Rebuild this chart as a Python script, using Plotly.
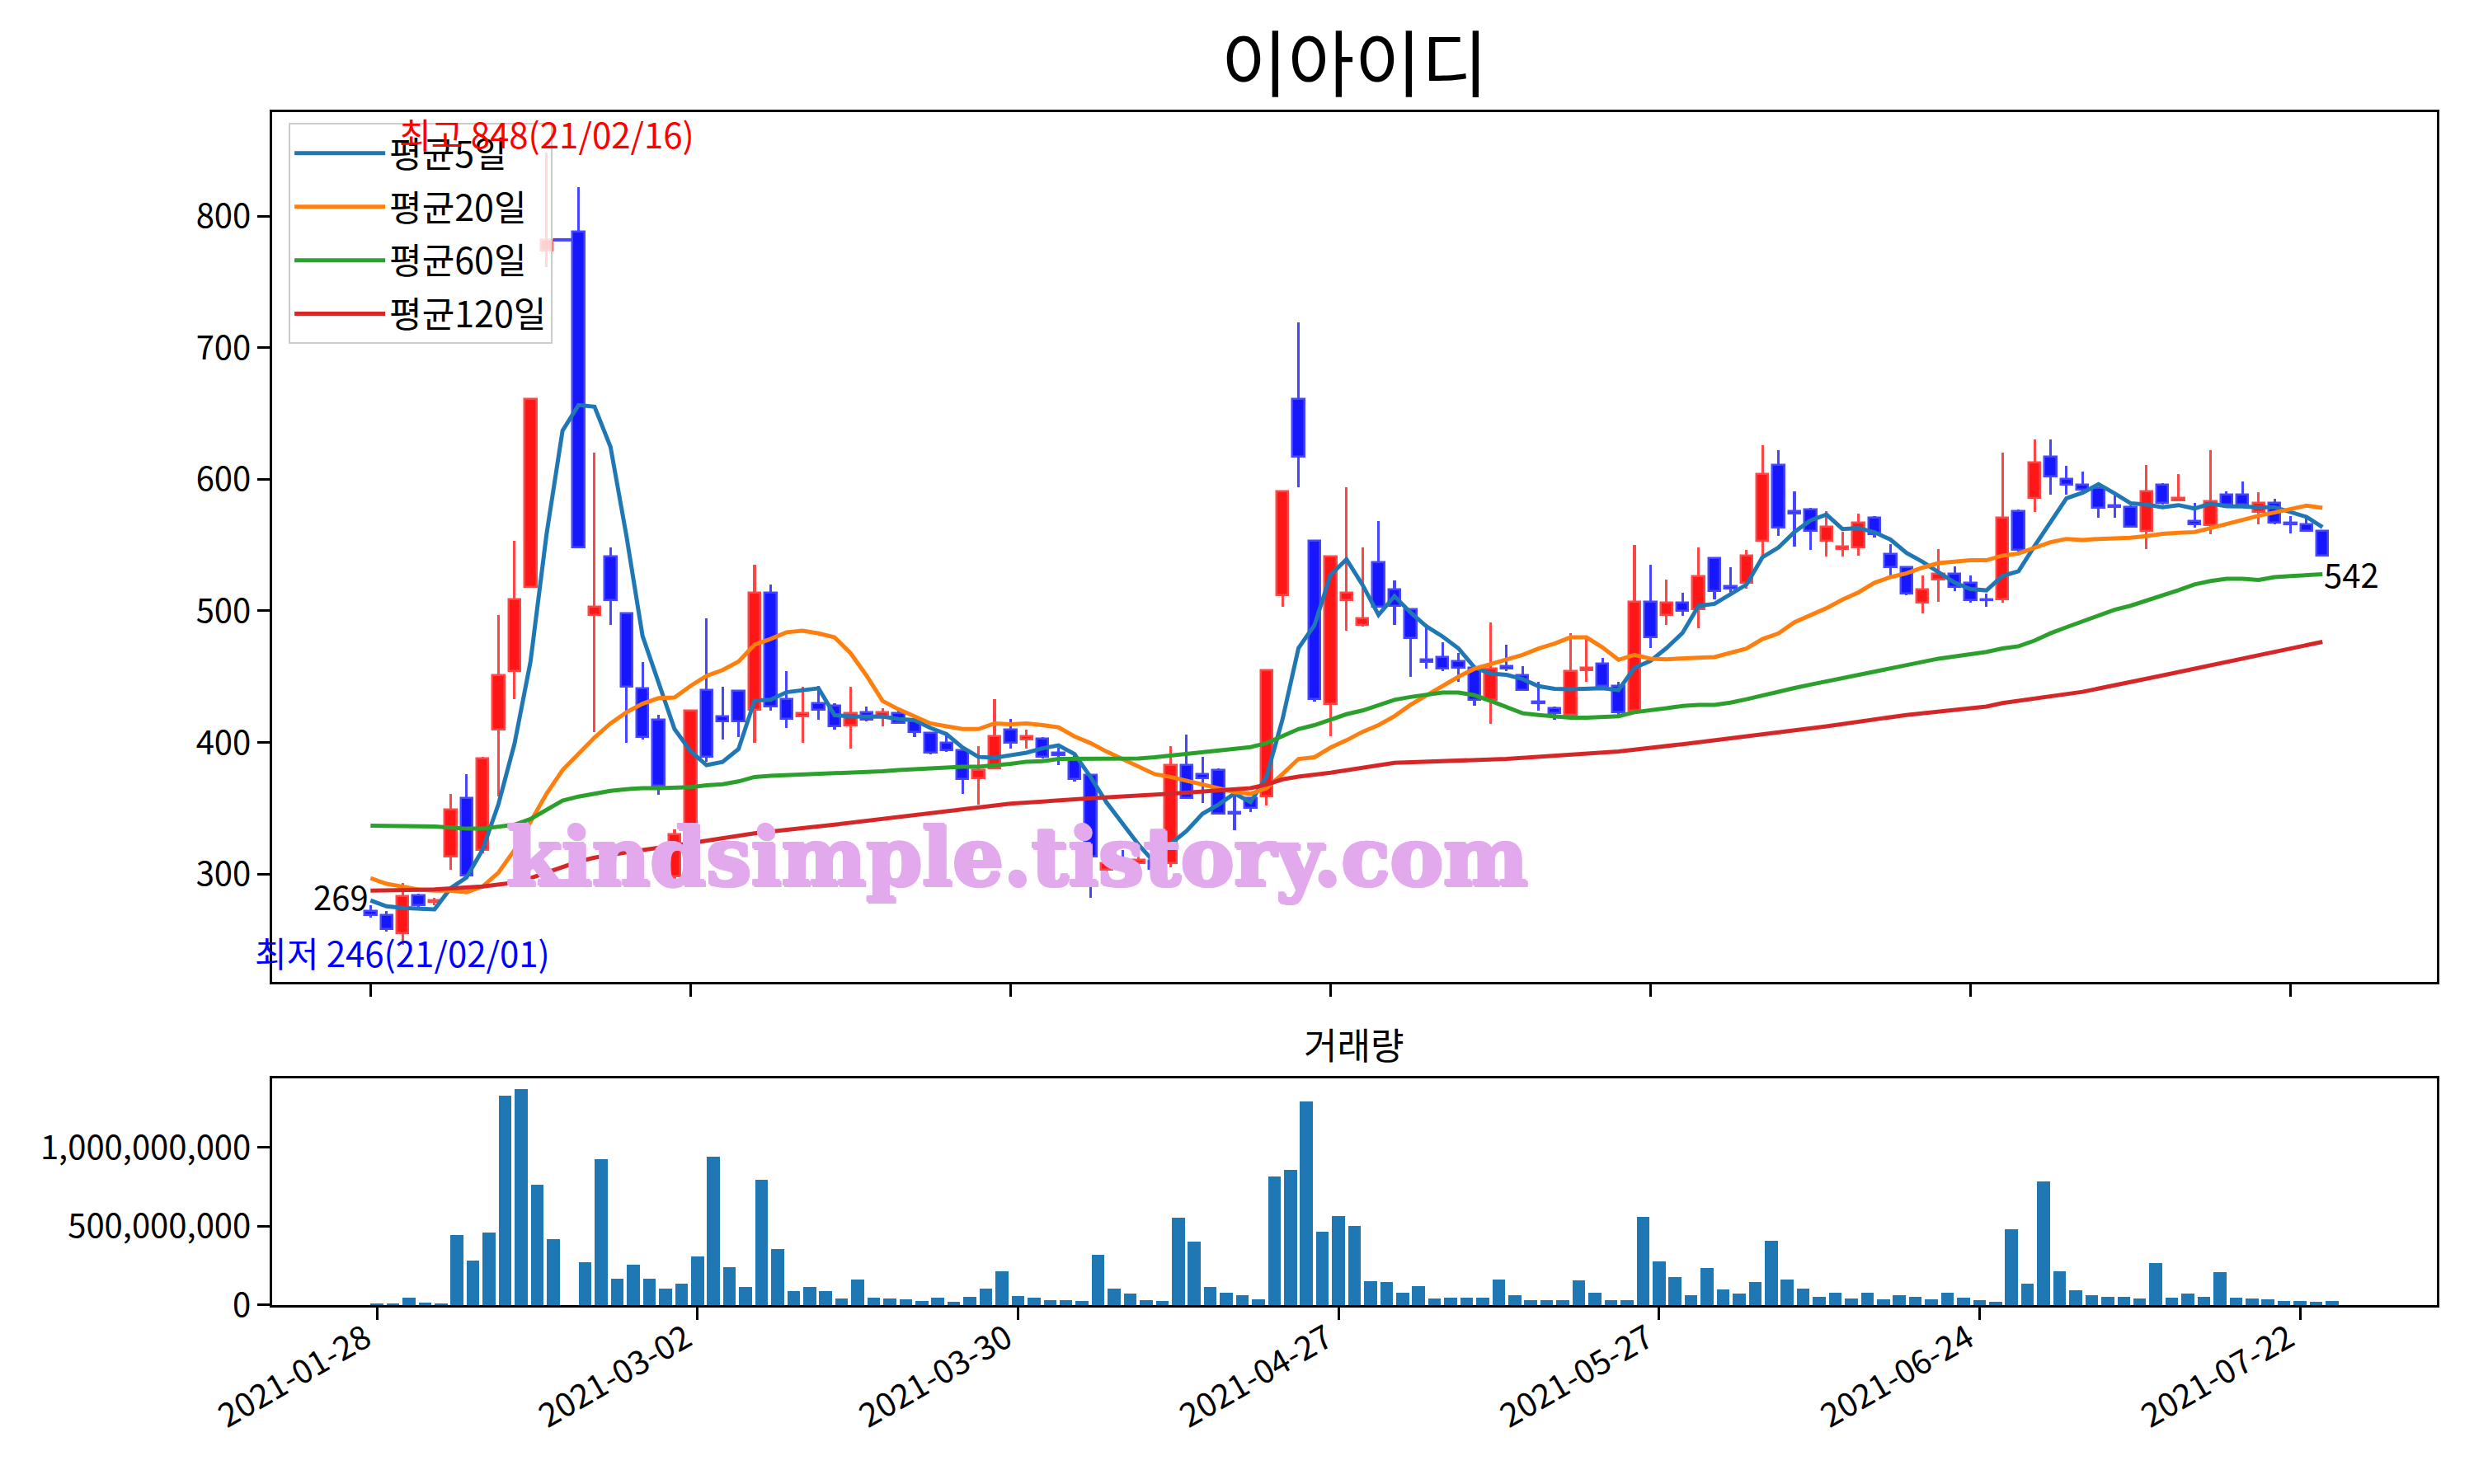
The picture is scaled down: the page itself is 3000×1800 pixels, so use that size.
import plotly.graph_objects as go

title = "이아이디"
tick_days = [0, 20, 40, 60, 80, 100, 120]
tick_dates = ["2021-01-28", "2021-03-02", "2021-03-30", "2021-04-27",
              "2021-05-27", "2021-06-24", "2021-07-22"]

opens = [272, 269, 255, 284, 279, 313, 358, 318, 410, 454,
         518, 774, 782, 788, 497, 541, 498, 441, 417, 298,
         300, 440, 420, 439, 425, 514, 433, 420, 430, 428,
         413, 423, 419, 422, 417, 407, 400, 394, 373, 380,
         410, 402, 403, 392, 388, 375, 303, 311, 308, 310,
         308, 383, 376, 379, 347, 358, 359, 512, 661, 553,
         429, 508, 489, 537, 516, 501, 463, 465, 462, 457,
         432, 458, 451, 431, 426, 421, 455, 460, 443, 424,
         507, 497, 506, 501, 540, 519, 521, 553, 611, 576,
         577, 553, 547, 548, 571, 543, 533, 506, 524, 528,
         521, 509, 509, 576, 586, 617, 600, 596, 593, 580,
         579, 561, 596, 584, 568, 565, 588, 588, 575, 582,
         567, 566, 561]
highs = [276, 272, 293, 285, 282, 361, 376, 389, 497, 553,
         661, 848, 782, 822, 620, 548, 498, 461, 421, 334,
         425, 494, 442, 440, 535, 520, 454, 442, 443, 430,
         442, 427, 426, 426, 419, 408, 406, 395, 397, 433,
         418, 410, 404, 396, 391, 376, 310, 318, 315, 313,
         397, 406, 389, 380, 360, 358, 455, 591, 719, 554,
         541, 594, 548, 568, 523, 501, 490, 476, 468, 458,
         491, 474, 458, 446, 427, 483, 479, 464, 446, 550,
         535, 524, 514, 548, 540, 533, 546, 626, 622, 591,
         578, 576, 560, 574, 572, 551, 534, 527, 547, 534,
         527, 513, 620, 577, 630, 630, 610, 606, 593, 588,
         580, 611, 597, 604, 582, 622, 591, 598, 590, 585,
         572, 571, 561]
lows = [267, 256, 246, 274, 276, 303, 298, 316, 359, 433,
        518, 761, 782, 548, 408, 489, 400, 402, 360, 294,
        298, 385, 402, 404, 400, 424, 411, 400, 417, 410,
        395, 416, 412, 414, 404, 391, 393, 361, 353, 380,
        395, 395, 388, 383, 370, 282, 300, 306, 304, 300,
        305, 357, 354, 345, 333, 347, 352, 503, 594, 431,
        405, 485, 488, 503, 489, 450, 456, 454, 446, 428,
        414, 454, 440, 424, 417, 420, 446, 443, 421, 424,
        472, 489, 496, 487, 509, 511, 517, 541, 557, 549,
        546, 541, 541, 542, 556, 527, 512, 498, 507, 515,
        506, 503, 506, 545, 575, 588, 588, 588, 571, 571,
        563, 547, 581, 583, 563, 558, 578, 581, 566, 566,
        559, 561, 541]
closes = [269, 258, 283, 276, 280, 349, 299, 388, 451, 509,
          661, 782, 782, 548, 503, 508, 442, 404, 367, 330,
          424, 389, 416, 416, 514, 427, 418, 422, 425, 412,
          422, 417, 423, 415, 408, 392, 394, 372, 379, 405,
          400, 405, 389, 390, 372, 313, 308, 308, 311, 304,
          383, 358, 373, 346, 346, 350, 455, 591, 617, 433,
          541, 514, 494, 503, 504, 479, 461, 456, 457, 432,
          456, 456, 440, 430, 422, 454, 457, 443, 423, 507,
          480, 506, 500, 526, 515, 517, 542, 604, 563, 574,
          561, 564, 549, 567, 558, 533, 513, 516, 528, 518,
          508, 508, 571, 546, 613, 602, 596, 592, 578, 579,
          564, 591, 582, 586, 566, 583, 581, 581, 582, 567,
          566, 561, 542]

# 거래량 (백만 주)
volume_m = [9, 9, 45, 14, 9, 442, 280, 458, 1326, 1368,
            761, 416, 0, 270, 923, 165, 254, 165, 103, 134,
            307, 939, 239, 113, 793, 354, 87, 113, 87, 40,
            160, 45, 40, 35, 24, 45, 19, 50, 103, 213,
            56, 45, 30, 30, 24, 317, 103, 71, 30, 24,
            552, 401, 113, 77, 61, 35, 814, 855, 1289, 463,
            563, 500, 150, 145, 77, 118, 40, 45, 45, 45,
            160, 61, 30, 30, 30, 155, 77, 30, 30, 557,
            275, 176, 61, 233, 98, 71, 145, 406, 160, 103,
            50, 77, 40, 77, 35, 61, 50, 35, 77, 45,
            30, 19, 479, 134, 782, 213, 92, 61, 50, 50,
            40, 265, 45, 71, 50, 207, 45, 40, 35, 24,
            24, 19, 24]

ma5 = [280.0, 275.5, 274.2, 273.4, 273.2, 289.2, 297.4, 318.4, 353.4, 399.2,
       461.6, 558.2, 637.0, 656.4, 655.2, 624.6, 556.6, 481.0, 444.8, 410.2,
       393.4, 382.8, 385.2, 395.0, 431.8, 432.4, 438.2, 439.4, 441.2, 420.8,
       419.8, 419.6, 419.8, 417.8, 417.0, 411.0, 406.4, 396.2, 389.0, 388.4,
       390.0, 392.2, 395.6, 397.8, 391.2, 373.8, 354.4, 338.2, 322.4, 308.8,
       322.8, 332.8, 345.8, 352.8, 361.2, 354.6, 374.0, 417.6, 471.8, 489.2,
       527.4, 539.2, 519.8, 497.0, 511.2, 498.8, 488.2, 480.6, 471.4, 457.0,
       452.4, 451.4, 448.2, 442.8, 440.8, 440.4, 440.6, 441.2, 439.8, 456.8,
       462.0, 471.8, 483.2, 503.8, 505.4, 512.8, 520.0, 540.8, 548.2, 560.0,
       568.8, 573.2, 562.2, 563.0, 559.8, 554.2, 544.0, 537.4, 529.6, 521.6,
       516.6, 515.6, 526.6, 530.2, 549.2, 568.0, 585.6, 589.8, 596.2, 589.4,
       581.8, 580.8, 578.8, 580.4, 577.8, 581.6, 579.6, 579.4, 578.6, 578.8,
       575.4, 571.4, 563.6]
ma20 = [296.9, 292.6, 290.5, 288.3, 287.5, 287.5, 286.2, 290.5, 301.2, 318.3,
        339.7, 361.0, 379.0, 391.8, 403.8, 414.5, 423.0, 429.4, 433.7, 434.2,
        443.0, 450.6, 455.0, 461.5, 474.3, 478.6, 483.8, 485.0, 482.9, 479.9,
        467.9, 450.8, 431.6, 425.2, 420.0, 414.5, 412.3, 410.2, 410.2, 414.5,
        413.8, 414.5, 413.2, 411.5, 404.6, 399.5, 393.1, 387.5, 381.5, 376.0,
        373.8, 370.9, 367.4, 364.5, 362.3, 361.0, 365.3, 376.0, 387.5, 388.8,
        396.1, 401.7, 408.1, 413.2, 420.0, 428.6, 435.9, 443.1, 450.0, 456.0,
        459.4, 462.8, 466.6, 471.4, 475.2, 479.9, 479.9, 472.2, 462.8, 466.6,
        463.7, 463.2, 463.5, 464.5, 464.9, 467.9, 471.4, 478.6, 482.9, 491.4,
        497.0, 502.1, 508.6, 514.1, 521.4, 525.7, 528.6, 532.9, 536.3, 537.2,
        538.5, 538.5, 542.0, 543.6, 547.9, 552.2, 554.7, 553.9, 554.7, 555.2,
        555.6, 556.9, 558.6, 559.4, 559.9, 562.9, 566.3, 569.3, 572.3, 574.8,
        577.8, 580.0, 578.3]
ma60 = [336.7, 336.7, 336.7, 336.5, 336.2, 335.4, 334.5, 334.5, 335.8, 337.5,
        341.8, 349.1, 355.9, 358.9, 361.0, 363.2, 364.5, 365.3, 365.3, 365.3,
        366.0, 367.4, 368.3, 370.4, 373.8, 374.7, 375.1, 376.0, 376.4, 376.8,
        376.8, 377.3, 378.1, 379.0, 379.8, 380.3, 381.1, 381.5, 381.5, 382.4,
        383.8, 385.4, 385.8, 387.5, 387.5, 387.5, 387.5, 387.5, 387.8, 388.8,
        390.1, 391.8, 393.1, 394.4, 395.2, 396.5, 399.5, 404.6, 410.2, 413.2,
        417.5, 421.5, 424.3, 428.2, 432.4, 434.6, 436.7, 438.0, 438.0, 435.9,
        431.6, 427.3, 422.2, 420.9, 419.6, 418.8, 418.8, 419.2, 420.0, 423.0,
        424.3, 426.0, 427.8, 428.6, 428.6, 430.3, 432.9, 435.9, 438.8, 441.4,
        444.0, 446.5, 448.7, 451.7, 454.2, 456.4, 458.5, 461.5, 463.7, 465.4,
        467.1, 468.8, 471.5, 473.1, 477.4, 483.0, 487.6, 492.3, 496.6, 500.9,
        503.9, 507.7, 511.5, 515.8, 520.1, 522.7, 524.4, 524.4, 523.5, 525.7,
        526.5, 527.0, 527.8]
ma120_days = [0, 4, 7, 8, 9, 10, 11, 12, 13, 14, 16, 20, 24, 29, 35, 40, 45,
              50, 55, 56, 57, 58, 60, 64, 71, 78, 82, 86, 91, 96, 101, 102,
              107, 112, 117, 122]
ma120 = [287.5, 288.3, 290.5, 291.8, 293.5, 296.9, 301.2, 305.5, 309.5, 312.5,
         316.5, 323.5, 331.0, 337.5, 346.0, 353.5, 357.6, 361.0, 365.3, 368.0,
         372.0, 374.0, 377.0, 384.6, 387.5, 393.1, 398.7, 404.6, 412.3, 420.9,
         427.3, 430.0, 438.5, 451.0, 463.7, 476.5]

FONT = "Noto Sans CJK KR"
WM = "#E2AAEC"
# 페이지 body 기본 여백(8px) 보정
DX = 8 / 3000
DY = 8 / 1800

days = list(range(len(closes)))
up = [i for i in days if closes[i] > opens[i]]
down = [i for i in days if closes[i] <= opens[i]]

fig = go.Figure()

for idx, fill, edge in [(up, "rgb(255,22,22)", "rgb(255,70,70)"),
                        (down, "rgb(22,22,255)", "rgb(70,70,255)")]:
    fig.add_trace(go.Bar(
        x=idx, base=[lows[i] for i in idx], y=[highs[i] - lows[i] for i in idx],
        width=0.16, marker=dict(color=edge, line=dict(width=0)),
        showlegend=False, hoverinfo="skip"))
    fig.add_trace(go.Bar(
        x=idx, base=[min(opens[i], closes[i]) for i in idx],
        y=[abs(closes[i] - opens[i]) for i in idx],
        width=0.74, marker=dict(color=fill, line=dict(color=edge, width=2.5)),
        showlegend=False))
    flat = [i for i in idx if closes[i] == opens[i]]
    if flat:
        fig.add_trace(go.Scatter(
            x=flat, y=[closes[i] for i in flat], mode="markers",
            marker=dict(symbol="line-ew", size=16,
                        line=dict(color=edge, width=4)),
            showlegend=False))

for name, xs, ys, color in [("평균5일", days, ma5, "#1f77b4"),
                            ("평균20일", days, ma20, "#ff7f0e"),
                            ("평균60일", days, ma60, "#2ca02c"),
                            ("평균120일", ma120_days, ma120, "#d62728")]:
    fig.add_trace(go.Scatter(x=xs, y=ys, mode="lines", name=name,
                             legendgroup=name,
                             line=dict(color=color, width=5)))

fig.add_trace(go.Bar(x=days, y=[v * 1_000_000 for v in volume_m],
                     width=0.8, marker=dict(color="#1f77b4", line=dict(width=0)),
                     xaxis="x2", yaxis="y2", showlegend=False))

hi = highs.index(max(highs))
lo = lows.index(min(lows))
axis_style = dict(showline=True, mirror=True, linecolor="black", linewidth=2.5,
                  ticks="outside", ticklen=15, tickwidth=3, tickcolor="black",
                  showgrid=False, zeroline=False,
                  tickfont=dict(family=FONT, size=40, color="black"))
wm_shadow = ", ".join(f"{a}px {b}px 0 {WM}" for a, b in
                      [(2, 0), (-2, 0), (0, 2), (0, -2), (2, 2), (-2, -2)])

fig.update_layout(
    width=3000, height=1800, template="none",
    margin=dict(l=0, r=0, t=0, b=0, pad=0),
    paper_bgcolor="white", plot_bgcolor="white",
    barmode="overlay", bargap=0,
    font=dict(family=FONT, size=40, color="black"),
    title=dict(text=title, x=0.5475 - DX, y=0.956 + DY, xanchor="center",
               yanchor="middle", font=dict(family=FONT, size=88, color="black")),
    xaxis=dict(domain=[0.11 - DX, 0.985 - DX], range=[-6.15, 129.15], anchor="y",
               tickvals=tick_days, showticklabels=False, **axis_style),
    yaxis=dict(domain=[0.3383 + DY, 0.9244 + DY], range=[218, 879], anchor="x",
               tickvals=[300, 400, 500, 600, 700, 800], **axis_style),
    xaxis2=dict(domain=[0.11 - DX, 0.985 - DX], range=[-6.54, 128.54],
                anchor="y2", tickvals=tick_days, ticktext=tick_dates,
                tickangle=-30, ticklabelshift=-14, ticklabelstandoff=-16,
                **axis_style),
    yaxis2=dict(domain=[0.1206 + DY, 0.2733 + DY], range=[0, 1436e6],
                anchor="x2", tickvals=[0, 500e6, 1000e6], tickformat=",d",
                **axis_style),
    legend=dict(x=0.1167 - DX, y=0.917 + DY, xanchor="left", yanchor="top",
                bgcolor="rgba(255,255,255,0.8)", bordercolor="#cccccc",
                borderwidth=2, font=dict(family=FONT, size=43, color="black"),
                itemwidth=110, tracegroupgap=6),
    annotations=[
        dict(text="kindsimple.tistory.com", x=0.4113 - DX, y=0.4223 + DY,
             xref="paper", yref="paper", showarrow=False,
             font=dict(family="DejaVu Serif", size=97, color=WM,
                       weight="bold", shadow=wm_shadow)),
        dict(text=f"최고 {highs[hi]}(21/02/16)", x=hi, y=highs[hi],
             xref="x", yref="y", showarrow=False, xanchor="center",
             yanchor="bottom", yshift=-8,
             font=dict(family=FONT, size=42, color="red")),
        dict(text=f"최저 {lows[lo]}(21/02/01)", x=lo, y=lows[lo],
             xref="x", yref="y", showarrow=False, xanchor="center",
             yanchor="middle", yshift=-8,
             font=dict(family=FONT, size=42, color="blue")),
        dict(text=str(closes[0]), x=0, y=closes[0], xref="x", yref="y",
             showarrow=False, xanchor="right", yanchor="bottom", yshift=-8,
             font=dict(family=FONT, size=40, color="black")),
        dict(text=str(closes[-1]), x=days[-1], y=closes[-1], xref="x", yref="y",
             showarrow=False, xanchor="left", yanchor="middle", yshift=-22,
             font=dict(family=FONT, size=40, color="black")),
        dict(text="거래량", x=0.547 - DX, y=0.2967 + DY, xref="paper",
             yref="paper", showarrow=False, xanchor="center", yanchor="middle",
             font=dict(family=FONT, size=44, color="black")),
    ],
)

fig.write_html("out.html", config={"displayModeBar": False})
